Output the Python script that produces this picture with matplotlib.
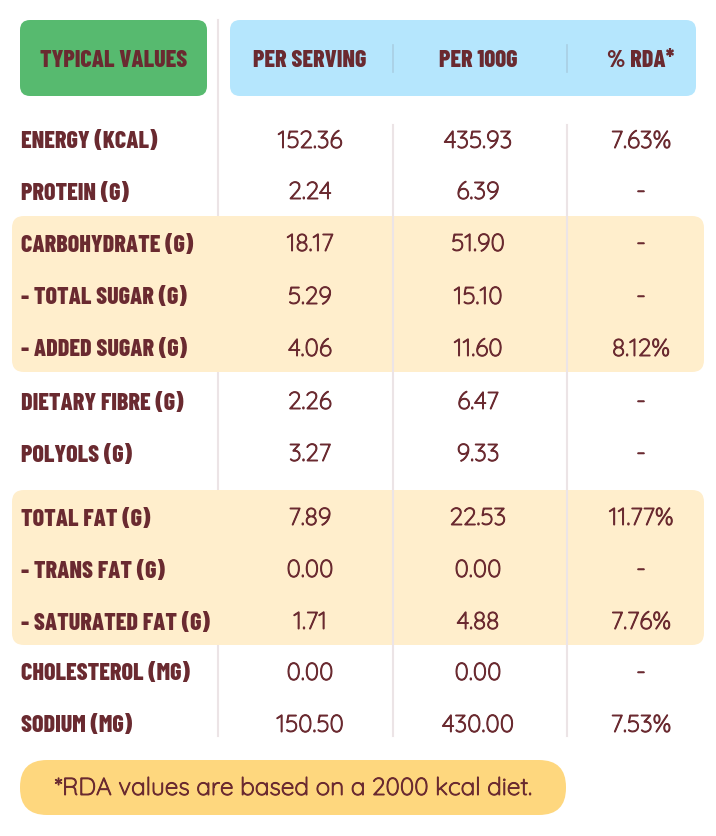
import matplotlib.pyplot as plt
import matplotlib.patheffects as pe
from matplotlib.patches import FancyBboxPatch

# data
nutrients = ["ENERGY (KCAL)", "PROTEIN (G)", "CARBOHYDRATE (G)", "- TOTAL SUGAR (G)",
             "- ADDED SUGAR (G)", "DIETARY FIBRE (G)", "POLYOLS (G)", "TOTAL FAT (G)",
             "- TRANS FAT (G)", "- SATURATED FAT (G)", "CHOLESTEROL (MG)", "SODIUM (MG)"]
per_serving = ["152.36", "2.24", "18.17", "5.29", "4.06", "2.26", "3.27",
               "7.89", "0.00", "1.71", "0.00", "150.50"]
per_100g = ["435.93", "6.39", "51.90", "15.10", "11.60", "6.47", "9.33",
            "22.53", "0.00", "4.88", "0.00", "430.00"]
rda = ["7.63%", "-", "-", "-", "8.12%", "-", "-",
       "11.77%", "-", "7.76%", "-", "7.53%"]
headers = ["PER SERVING", "PER 100G", "% RDA*"]
first_header = "TYPICAL VALUES"
footnote = "*RDA values are based on a 2000 kcal diet."
groups = [(2, 4), (7, 9)]  # highlighted rows

# layout (pixels)
W, H = 716, 836
row_y = [141, 192, 244, 297, 349, 402, 454, 518, 570, 622, 673, 725]
col_x = [310, 478, 641]
maroon = "#6A2A30"
label_font = dict(family=["Barlow Condensed", "Oswald", "DejaVu Sans"],
                  fontweight=800, fontsize=17.3)
# the Quicksand here is light only, a thin stroke gives it the medium look
num_font = dict(family=["Quicksand", "Lato", "DejaVu Sans"], fontsize=17.6,
                path_effects=[pe.withStroke(linewidth=0.7, foreground=maroon)])

fig = plt.figure(figsize=(W / 100, H / 100), dpi=100)
ax = fig.add_axes([0, 0, 1, 1])
ax.set_xlim(0, W)
ax.set_ylim(H, 0)
ax.axis("off")


def rbox(x0, y0, x1, y1, color, r):
    ax.add_patch(FancyBboxPatch((x0 + r, y0 + r), x1 - x0 - 2 * r, y1 - y0 - 2 * r,
                                boxstyle=f"round,pad={r}", fc=color, ec="none", zorder=1))


# dividers (first one runs the full height, behind the header boxes)
ax.plot([218, 218], [20, 736], color="#ECE4E6", lw=1.5, zorder=0.5)
for x in [393, 567]:
    ax.plot([x, x], [125, 736], color="#ECE4E6", lw=1.5, zorder=2)

# header boxes
rbox(20, 20, 207, 96, "#57BA6F", 10)
rbox(230, 20, 696, 96, "#B5E6FD", 10)
for x in [393, 567]:
    ax.plot([x, x], [45, 72], color="#A9CFE3", lw=1.2, zorder=2)
ax.text(114, 61, first_header, ha="center", va="center", color=maroon, **label_font)
for x, h in zip(col_x, headers):
    ax.text(x, 61, h, ha="center", va="center", color=maroon, **label_font)

# highlighted bands
for a, b in groups:
    rbox(12, row_y[a] - 28, 704, row_y[b] + 23, "#FFEECC", 12)

# rows
for i, y in enumerate(row_y):
    ax.text(21, y + 1.5, nutrients[i], ha="left", va="center", color=maroon, zorder=3, **label_font)
    for x, v in zip(col_x, [per_serving[i], per_100g[i], rda[i]]):
        ax.text(x, y, v, ha="center", va="center", color=maroon, zorder=3, **num_font)

# footnote pill
rbox(20, 760, 566, 815, "#FED77E", 27)
ax.text(293, 788, footnote, ha="center", va="center", color=maroon, zorder=3, **num_font)

fig.savefig("out.png", dpi=100)
